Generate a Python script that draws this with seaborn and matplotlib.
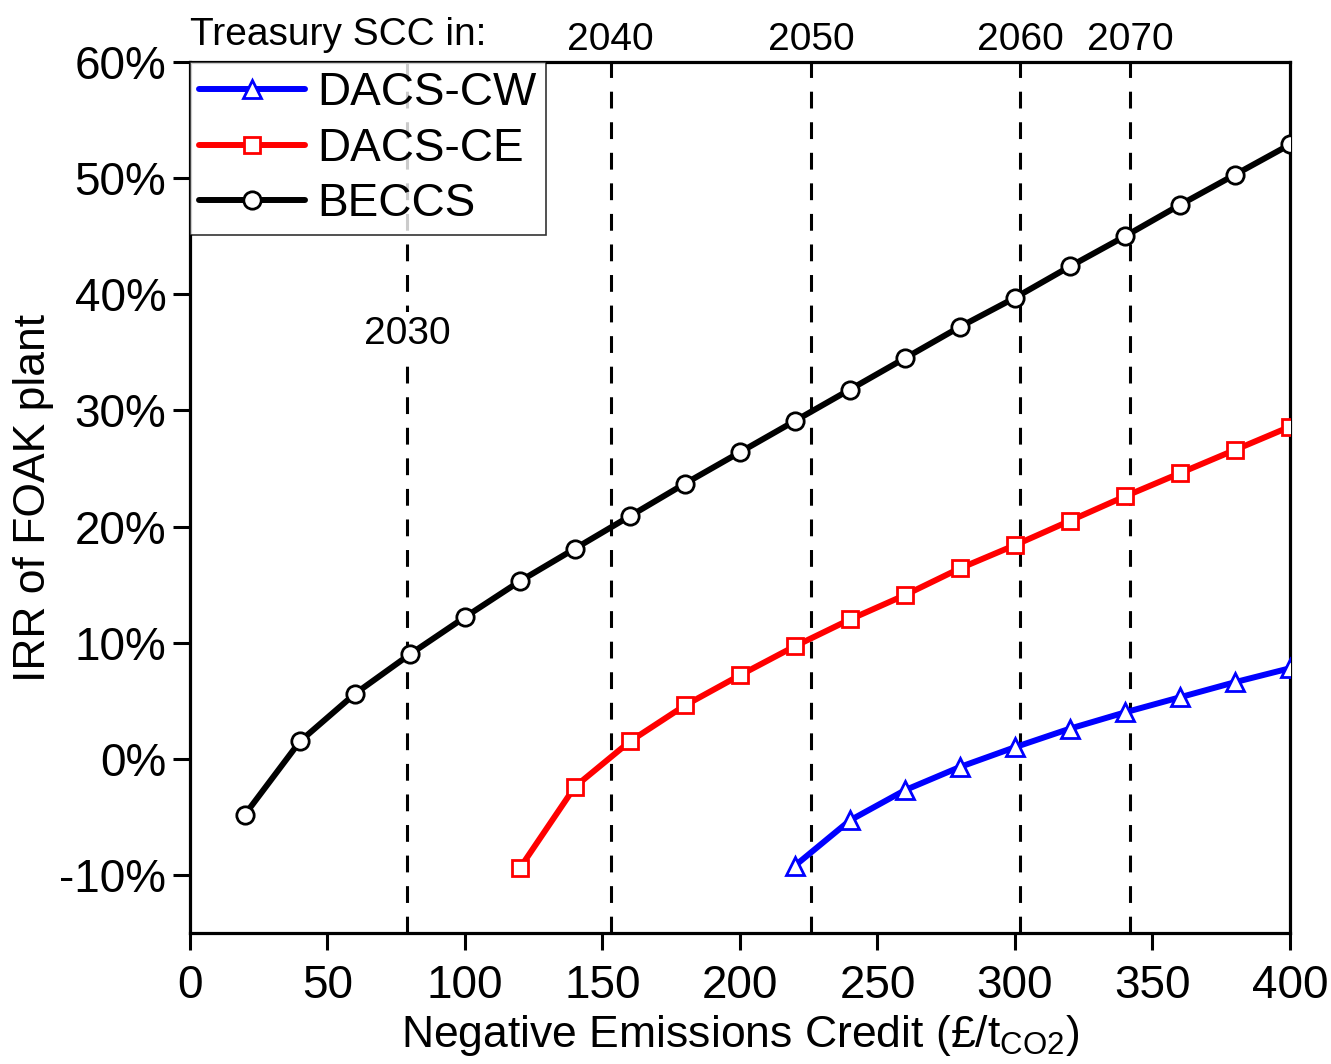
import matplotlib
matplotlib.use("Agg")
import matplotlib.pyplot as plt
import seaborn as sns
import pandas as pd

# Negative emissions credit (GBP per tonne CO2) and IRR (%) for each technology
credit_beccs = [20, 40, 60, 80, 100, 120, 140, 160, 180, 200, 220, 240, 260, 280, 300, 320, 340, 360, 380, 400]
irr_beccs = [-4.8, 1.5, 5.6, 9.0, 12.2, 15.3, 18.1, 20.9, 23.7, 26.4, 29.1, 31.8, 34.5, 37.2, 39.7, 42.4, 45.0, 47.7, 50.3, 52.9]

credit_ce = [120, 140, 160, 180, 200, 220, 240, 260, 280, 300, 320, 340, 360, 380, 400]
irr_ce = [-9.4, -2.4, 1.5, 4.6, 7.2, 9.7, 12.0, 14.1, 16.4, 18.4, 20.5, 22.6, 24.6, 26.6, 28.6]

credit_cw = [220, 240, 260, 280, 300, 320, 340, 360, 380, 400]
irr_cw = [-9.2, -5.3, -2.7, -0.7, 1.0, 2.6, 4.0, 5.3, 6.6, 7.8]

# Treasury social cost of carbon by year
scc_years = ["2030", "2040", "2050", "2060", "2070"]
scc_values = [79, 153, 226, 302, 342]

x_ticks = [0, 50, 100, 150, 200, 250, 300, 350, 400]
y_ticks = [-10, 0, 10, 20, 30, 40, 50, 60]

sns.set_theme(style="white")
plt.rcParams["font.family"] = ["Liberation Sans", "DejaVu Sans"]
plt.rcParams["mathtext.fontset"] = "custom"
plt.rcParams["mathtext.rm"] = "Liberation Sans"
plt.rcParams["text.color"] = "black"
plt.rcParams["axes.labelcolor"] = "black"
plt.rcParams["xtick.color"] = "black"
plt.rcParams["ytick.color"] = "black"

fig = plt.figure(figsize=(13.31, 10.64), dpi=100)
ax = fig.add_axes([0.1427, 0.1231, 0.8265, 0.8186])

series = [
    ("DACS-CW", credit_cw, irr_cw, "#0000ff", "^", 13),
    ("DACS-CE", credit_ce, irr_ce, "#ff0000", "s", 11),
    ("BECCS", credit_beccs, irr_beccs, "#000000", "o", 12.5),
]
for name, xs, ys, col, mk, ms in series:
    df = pd.DataFrame({"credit": xs, "irr": ys})
    sns.lineplot(data=df, x="credit", y="irr", ax=ax, color=col, lw=4.3,
                 marker=mk, markersize=ms,
                 markerfacecolor="white", markeredgecolor=col,
                 markeredgewidth=2.0, label=name, zorder=3)

# SCC reference lines
for yr, v in zip(scc_years, scc_values):
    ax.axvline(v, color="black", lw=2.2, ls=(0, (5.5, 4.5)), zorder=2)
    if yr == "2030":
        ax.text(v, 36.9, yr, ha="center", va="center_baseline", fontsize=28,
                zorder=2.5,
                bbox=dict(boxstyle="square,pad=0.12", facecolor="white", edgecolor="none"))
    else:
        ax.text(v, 62.2, yr, ha="center", va="center_baseline", fontsize=28)
ax.text(0, 62.65, "Treasury SCC in:", ha="left", va="center_baseline", fontsize=28)

ax.set_xlim(0, 400)
ax.set_ylim(-15, 60)
ax.set_xticks(x_ticks)
ax.set_xticklabels([str(t) for t in x_ticks])
ax.set_yticks(y_ticks)
ax.set_yticklabels([f"{t}%" for t in y_ticks])
ax.tick_params(axis="both", direction="out", length=12, width=2.2,
               labelsize=33, colors="black",
               bottom=True, left=True, top=False, right=False)
ax.tick_params(axis="x", pad=10)
ax.tick_params(axis="y", pad=5)
for sp in ax.spines.values():
    sp.set_color("black")
    sp.set_linewidth(2.3)

ax.set_xlabel(r"Negative Emissions Credit (£/t$_{\mathregular{CO2}}$)", fontsize=32, labelpad=4)
ax.set_ylabel("IRR of FOAK plant", fontsize=32, labelpad=4)

leg = ax.legend(loc="upper left", fontsize=33, frameon=True, fancybox=False,
                borderaxespad=0, handlelength=2.3, handletextpad=0.28,
                labelspacing=0.25, borderpad=0.2)
leg.get_frame().set_edgecolor("black")
leg.get_frame().set_linewidth(1.2)
leg.set_zorder(5)
for t in leg.get_texts():
    t.set_color("black")

fig.savefig("out.png", dpi=100, facecolor="white")
